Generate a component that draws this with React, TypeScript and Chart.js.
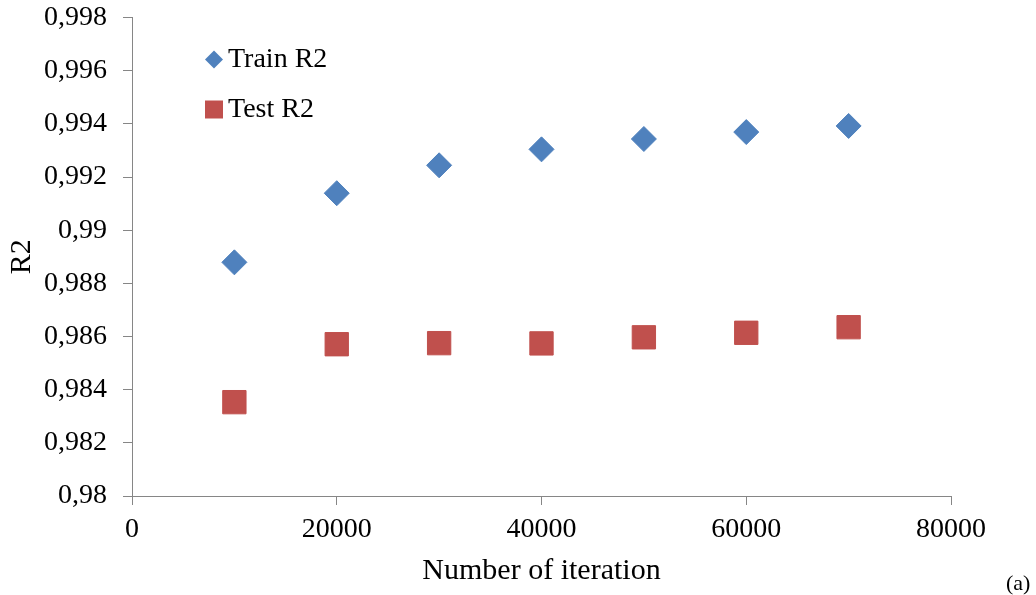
import React, { useEffect, useRef } from "react";
import { Chart, registerables } from "chart.js";

Chart.register(...registerables);

const iterations = [10000, 20000, 30000, 40000, 50000, 60000, 70000];
const trainR2 = [0.98879, 0.99139, 0.99244, 0.99304, 0.99343, 0.99369, 0.99392];
const testR2 = [0.98353, 0.98571, 0.98575, 0.98574, 0.98597, 0.98614, 0.98635];
const xTicks = [0, 20000, 40000, 60000, 80000];
const yTicks = [0.98, 0.982, 0.984, 0.986, 0.988, 0.99, 0.992, 0.994, 0.996, 0.998];

const SERIF = '"Liberation Serif", "Times New Roman", serif';
const BLUE = "#4F81BD";
const RED = "#C0504D";
const AXIS = "#868686";

const legendPlugin = {
  id: "insideLegend",
  afterDraw(chart: any) {
    const ctx = chart.ctx;
    const { left, top } = chart.chartArea;
    const items = chart.data.datasets;
    ctx.save();
    items.forEach((ds: any, i: number) => {
      const cx = left + 82;
      const cy = top + 42 + i * 50;
      ctx.fillStyle = ds.backgroundColor;
      ctx.beginPath();
      if (ds.pointStyle === "rectRot") {
        const r = 9;
        ctx.moveTo(cx, cy - r);
        ctx.lineTo(cx + r, cy);
        ctx.lineTo(cx, cy + r);
        ctx.lineTo(cx - r, cy);
        ctx.closePath();
      } else {
        ctx.rect(cx - 9, cy - 9, 18, 18);
      }
      ctx.fill();
      ctx.fillStyle = "#000";
      ctx.font = `28px ${SERIF}`;
      ctx.textAlign = "left";
      ctx.textBaseline = "middle";
      ctx.fillText(ds.label, cx + 14, cy);
    });
    ctx.restore();
  },
};

export default function App() {
  const ref = useRef<HTMLCanvasElement | null>(null);

  useEffect(() => {
    document.body.style.margin = "0";
    if (!ref.current) return;
    const chart = new Chart(ref.current, {
      type: "scatter",
      data: {
        datasets: [
          {
            label: "Train R2",
            data: iterations.map((x, i) => ({ x, y: trainR2[i] })),
            backgroundColor: BLUE,
            borderColor: BLUE,
            borderWidth: 1,
            pointStyle: "rectRot",
            pointRadius: 12.5,
            showLine: false,
          },
          {
            label: "Test R2",
            data: iterations.map((x, i) => ({ x, y: testR2[i] })),
            backgroundColor: RED,
            borderColor: RED,
            borderWidth: 1,
            pointStyle: "rect",
            pointRadius: 16.5,
            showLine: false,
          },
        ],
      },
      options: {
        animation: false,
        responsive: false,
        devicePixelRatio: 1,
        layout: { padding: { left: 0, right: 85, top: 17, bottom: 0 } },
        plugins: {
          legend: { display: false },
          tooltip: { enabled: false },
        },
        scales: {
          x: {
            type: "linear",
            min: 0,
            max: 80000,
            afterBuildTicks: (scale: any) => {
              scale.ticks = xTicks.map((v) => ({ value: v }));
            },
            afterFit: (scale: any) => {
              scale.height = 99;
            },
            grid: {
              drawOnChartArea: false,
              drawTicks: true,
              tickLength: 9,
              color: AXIS,
            },
            border: { display: true, color: AXIS, width: 1 },
            ticks: {
              color: "#000",
              font: { family: SERIF, size: 28 },
              padding: 8,
              maxRotation: 0,
              callback: (v: any) => String(v),
            },
            title: {
              display: true,
              text: "Number of iteration",
              color: "#000",
              font: { family: SERIF, size: 30, lineHeight: 1.2 },
              padding: { top: 0, bottom: 6 },
            },
          },
          y: {
            type: "linear",
            min: 0.98,
            max: 0.998,
            afterBuildTicks: (scale: any) => {
              scale.ticks = yTicks.map((v) => ({ value: v }));
            },
            afterFit: (scale: any) => {
              scale.width = 132;
              scale.paddingTop = 0;
              scale.paddingBottom = 0;
            },
            grid: {
              drawOnChartArea: false,
              drawTicks: true,
              tickLength: 9,
              color: AXIS,
            },
            border: { display: true, color: AXIS, width: 1 },
            ticks: {
              color: "#000",
              font: { family: SERIF, size: 28, lineHeight: 0.05 },
              padding: 16,
              callback: (v: any) =>
                parseFloat(Number(v).toFixed(3)).toString().replace(".", ","),
            },
            title: {
              display: true,
              text: "R2",
              color: "#000",
              font: { family: SERIF, size: 30, lineHeight: 1.2 },
              padding: { top: 4, bottom: 0 },
            },
          },
        },
      },
      plugins: [legendPlugin],
    });
    return () => chart.destroy();
  }, []);

  return (
    <div style={{ position: "fixed", left: 0, top: 0, width: 1036, height: 595, background: "#fff" }}>
      <canvas ref={ref} width={1036} height={595} style={{ width: 1036, height: 595 }} />
      <div
        style={{
          position: "absolute",
          left: 1006,
          top: 570,
          fontFamily: SERIF,
          fontSize: 22,
          lineHeight: "26px",
          color: "#000",
        }}
      >
        (a)
      </div>
    </div>
  );
}
